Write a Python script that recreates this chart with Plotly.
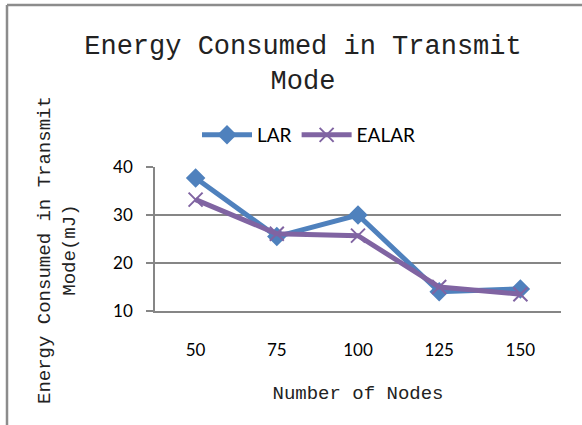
import plotly.graph_objects as go

categories = ["50", "75", "100", "125", "150"]
lar = [37.7, 25.5, 30.0, 14.0, 14.6]
ealar = [33.2, 26.1, 25.7, 15.0, 13.5]
y_ticks = [10, 20, 30, 40]

title_text = "Energy Consumed in Transmit<br>Mode"
x_title = "Number of Nodes"
y_title = "Energy Consumed in Transmit<br>Mode(mJ)"

serif = "Liberation Mono"
sans = "Lato, Carlito, Liberation Sans, sans-serif"

fig = go.Figure()
fig.add_trace(go.Scatter(
    x=categories, y=lar, name="LAR", mode="lines+markers",
    line=dict(color="#4F81BD", width=5),
    marker=dict(symbol="diamond", size=15, color="#4F81BD"),
))
fig.add_trace(go.Scatter(
    x=categories, y=ealar, name="EALAR", mode="lines+markers",
    line=dict(color="#8064A2", width=5),
    marker=dict(symbol="x-thin", size=14, color="#8064A2",
                line=dict(color="#8064A2", width=2)),
))

W, H = 582, 425
ml, mr, mt, mb = 155, 21, 167, 114
pw, ph = W - ml - mr, H - mt - mb

fig.update_layout(
    width=W, height=H,
    margin=dict(l=ml, r=mr, t=mt, b=mb),
    paper_bgcolor="white", plot_bgcolor="white",
    title=dict(text=title_text, x=303 / W, xanchor="center",
               y=1 - 54 / H, yanchor="top",
               font=dict(family=serif, size=27, color="#222")),
    legend=dict(orientation="h", x=(309 - ml) / pw, xanchor="center",
                y=1 + (mt - 135) / ph, yanchor="middle",
                font=dict(family=sans, size=19, color="#000"),
                itemwidth=50, tracegroupgap=0),
    showlegend=True,
    annotations=[
        dict(text=y_title, textangle=-90, xref="paper", yref="paper",
             x=(57 - ml) / pw, y=1 + (mt - 250) / ph,
             xanchor="center", yanchor="middle", showarrow=False,
             font=dict(family=serif, size=19, color="#222")),
    ],
    shapes=[
        dict(type="line", xref="paper", yref="paper",
             x0=(7 - ml) / pw, x1=1 + (mr + 5) / pw,
             y0=1 + (mt - 5) / ph, y1=1 + (mt - 5) / ph,
             line=dict(color="#8c8c8c", width=2.5)),
        dict(type="line", xref="paper", yref="paper",
             x0=(7 - ml) / pw, x1=(7 - ml) / pw,
             y0=1 + (mt - 5) / ph, y1=-(mb + 5) / ph,
             line=dict(color="#8c8c8c", width=2.5)),
    ],
)

fig.update_xaxes(
    type="category", range=[-0.5, 4.5],
    showline=True, linecolor="#868686", linewidth=1.5,
    showgrid=False, ticks="", ticklabelstandoff=23,
    tickfont=dict(family=sans, size=17, color="#000"),
    title=dict(text=x_title, standoff=27,
               font=dict(family=serif, size=19, color="#222")),
)
fig.update_yaxes(
    range=[10, 40], tickvals=y_ticks,
    showline=True, linecolor="#868686", linewidth=1.5,
    showgrid=True, gridcolor="#868686", gridwidth=1.5,
    ticks="outside", ticklen=7, tickcolor="#868686", tickwidth=1.5,
    ticklabelstandoff=10, zeroline=False,
    tickfont=dict(family=sans, size=17, color="#000"),
)

fig.write_html("out.html", config={"displayModeBar": False},
               post_script="document.body.style.margin='0';")
